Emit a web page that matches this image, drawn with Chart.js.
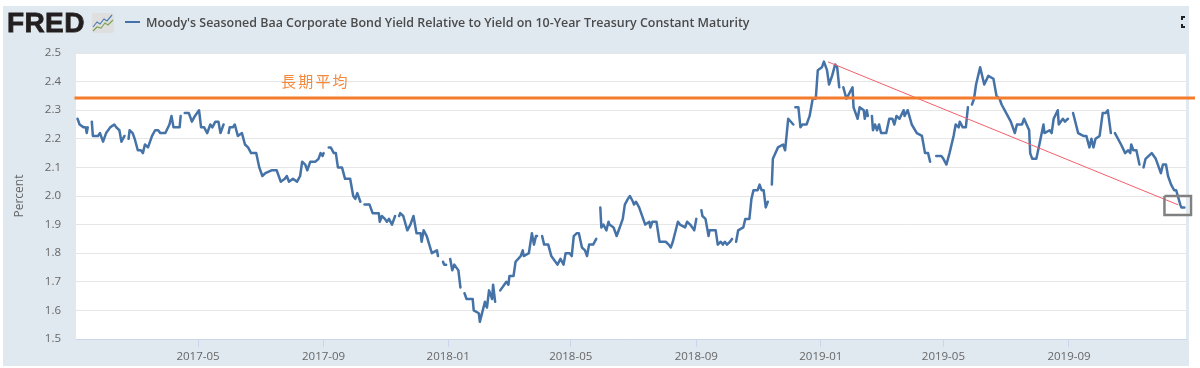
<!DOCTYPE html>
<html>
<head>
<meta charset="utf-8">
<title>Moody's Baa spread</title>
<script src="https://cdn.jsdelivr.net/npm/chart.js"></script>
<style>
  html, body { margin: 0; padding: 0; background: #fff; }
  #wrap { position: relative; width: 1200px; height: 368px; overflow: hidden; font-family: "Open Sans", sans-serif; }
  #panel { position: absolute; left: 3px; top: 6px; width: 1186px; height: 360px; background: #e1e9f0; }
  canvas { position: absolute; left: 0; top: 0; }
  #logo { position: absolute; left: 7px; top: 6px; font: bold 28px/34px "Liberation Sans", sans-serif; color: #231f20; -webkit-text-stroke: 0.8px #231f20; letter-spacing: 0.4px; }
  #icon { position: absolute; left: 92px; top: 13px; }
  #dash { position: absolute; left: 125px; top: 21px; width: 15px; height: 2px; background: #4572a7; }
  #title { position: absolute; left: 146px; top: 14px; font-size: 12.45px; line-height: 18px; font-weight: 600; color: #4a4a4a; white-space: nowrap; }
  #expand { position: absolute; left: 1180px; top: 15px; }
  #note { position: absolute; left: 281px; top: 71px; font: 15px/20px "Noto Sans CJK JP", sans-serif; letter-spacing: 2.2px; color: #f5883a; white-space: nowrap; }
</style>
</head>
<body>
<div id="wrap">
  <div id="panel"></div>
  <canvas id="spreadChart" width="1200" height="368"></canvas>
  <div id="logo">FRED</div>
  <svg id="icon" width="22" height="20" viewBox="0 0 22 20">
    <rect width="22" height="20" rx="2" fill="#dfdfdf"/>
    <polyline points="1,14 5,9 8,11 12,6 15,8 20,2" fill="none" stroke="#4f7fb0" stroke-width="1.2"/>
    <polyline points="1,18 5,14 9,15 13,10 16,12 21,7" fill="none" stroke="#7fa552" stroke-width="1.2"/>
  </svg>
  <div id="dash"></div>
  <div id="title">Moody's Seasoned Baa Corporate Bond Yield Relative to Yield on 10-Year Treasury Constant Maturity</div>
  <svg id="expand" width="10" height="14" viewBox="0 0 10 14">
    <path d="M2 5V2H5M2 9V12H5" fill="none" stroke="#222" stroke-width="2"/>
  </svg>
  <div id="note">長期平均</div>
</div>

<script>
// x values are days counted from 2017-01-01, null marks a gap in the series
var days = [
  2,4,8,10,11,12,null,
  16,17,22,24,27,30,34,38,40,43,45,48,null,
  52,53,56,58,61,64,66,68,71,75,78,81,83,86,88,92,94,96,102,103,null,
  107,111,112,114,117,121,123,126,129,132,134,137,140,142,145,null,
  150,151,154,156,159,163,166,169,172,177,180,183,186,192,197,201,205,207,209,213,217,220,222,225,227,230,235,238,240,242,243,null,
  248,250,253,255,257,261,264,269,270,272,274,276,279,null,
  283,288,291,297,298,300,303,305,307,310,313,null,
  317,318,321,325,328,331,334,338,339,341,344,349,354,355,null,
  360,361,363,null,
  367,369,371,375,377,null,
  381,383,389,390,395,396,401,403,405,408,409,411,null,
  416,422,424,425,429,431,436,438,439,444,447,449,451,452,null,
  457,459,463,466,472,475,478,480,484,486,488,491,493,496,499,501,503,507,510,null,
  514,515,517,520,522,523,527,530,533,536,538,541,543,546,547,549,552,554,558,562,563,565,569,572,576,578,581,583,585,590,592,597,599,602,606,608,null,
  613,614,617,620,621,627,629,632,634,636,638,641,643,null,
  647,649,654,656,660,662,664,668,670,672,674,676,678,null,
  682,683,688,693,695,698,703,null,
  705,708,710,712,716,719,722,725,727,731,733,736,738,741,744,746,748,null,
  752,755,758,761,762,766,768,772,773,775,776,null,
  780,781,783,785,787,789,794,797,800,802,804,807,811,812,815,819,824,829,832,835,837,null,
  843,848,850,853,856,860,862,865,866,869,872,874,null,
  878,880,882,886,890,894,899,902,905,907,913,916,920,922,927,929,934,935,937,941,944,948,949,954,956,958,962,963,967,969,972,null,
  977,982,987,990,993,995,997,999,1003,1006,1009,1011,1014,null,
  1018,1024,1028,1031,1033,1034,1036,1039,1042,null,
  1046,1048,1054,1058,1063,1065,1068,1070,1073,1076,1078,1082,1083,1086
];
var spread = [
  2.27,2.25,2.24,2.24,2.22,2.24,null,
  2.26,2.21,2.21,2.22,2.19,2.22,2.24,2.25,2.24,2.23,2.19,2.21,null,
  2.20,2.23,2.22,2.20,2.16,2.16,2.15,2.18,2.17,2.21,2.23,2.23,2.22,2.22,2.22,2.25,2.28,2.24,2.24,2.28,null,
  2.29,2.29,2.28,2.26,2.28,2.30,2.24,2.24,2.22,2.25,2.24,2.26,2.26,2.22,2.25,null,
  2.22,2.24,2.24,2.25,2.21,2.22,2.18,2.17,2.15,2.15,2.10,2.07,2.08,2.09,2.09,2.05,2.06,2.07,2.05,2.06,2.05,2.07,2.12,2.11,2.09,2.12,2.12,2.13,2.15,2.14,2.15,null,
  2.17,2.17,2.15,2.15,2.10,2.10,2.06,2.06,2.04,2.00,1.99,2.01,1.98,null,
  1.97,1.97,1.94,1.94,1.91,1.93,1.92,1.91,1.92,1.90,1.93,null,
  1.93,1.94,1.93,1.88,1.90,1.93,1.87,1.87,1.84,1.88,1.86,1.80,1.81,1.79,null,
  1.77,1.76,1.76,null,
  1.78,1.74,1.76,1.74,1.68,null,
  1.66,1.64,1.64,1.60,1.59,1.56,1.63,1.61,1.67,1.64,1.69,1.63,null,
  1.67,1.70,1.69,1.72,1.72,1.77,1.79,1.81,1.79,1.80,1.87,1.83,1.86,1.86,null,
  1.86,1.83,1.83,1.79,1.76,1.78,1.76,1.80,1.80,1.79,1.86,1.87,1.87,1.82,1.81,1.79,1.83,1.83,1.85,null,
  1.96,1.89,1.90,1.88,1.91,1.90,1.89,1.86,1.89,1.92,1.97,1.99,2.00,1.98,1.97,1.98,1.96,1.94,1.90,1.91,1.89,1.91,1.91,1.84,1.84,1.84,1.83,1.82,1.84,1.91,1.90,1.89,1.91,1.90,1.88,1.92,null,
  1.95,1.93,1.92,1.86,1.88,1.88,1.83,1.84,1.83,1.84,1.83,1.84,1.85,null,
  1.84,1.88,1.89,1.92,1.92,1.99,2.02,2.02,2.04,2.02,2.02,1.96,1.98,null,
  2.04,2.13,2.17,2.18,2.16,2.27,2.25,null,
  2.31,2.31,2.24,2.25,2.25,2.28,2.34,2.34,2.44,2.45,2.47,2.44,2.39,2.42,2.46,2.45,2.38,null,
  2.38,2.34,2.36,2.38,2.31,2.27,2.31,2.30,2.27,2.30,2.28,null,
  2.28,2.23,2.25,2.23,2.25,2.22,2.22,2.27,2.27,2.25,2.28,2.27,2.30,2.28,2.30,2.25,2.22,2.21,2.15,2.15,2.12,null,
  2.14,2.14,2.13,2.11,2.15,2.21,2.25,2.24,2.26,2.24,2.24,2.31,null,
  2.32,2.34,2.39,2.45,2.39,2.42,2.41,2.35,2.34,2.32,2.28,2.26,2.22,2.25,2.25,2.27,2.23,2.15,2.13,2.13,2.18,2.25,2.22,2.23,2.22,2.27,2.30,2.25,2.27,2.26,2.27,null,
  2.29,2.22,2.21,2.21,2.17,2.20,2.17,2.20,2.21,2.29,2.29,2.30,2.22,null,
  2.22,2.18,2.15,2.16,2.15,2.18,2.16,2.16,2.11,null,
  2.10,2.13,2.15,2.13,2.08,2.11,2.11,2.07,2.04,2.02,2.02,1.97,1.96,1.96
];

// long run average (orange), trend line (red) and the grey marker box
var averageDays = [-1, 1096.4];
var averageValues = [2.343, 2.343];
var trendDays = [737, 1080];
var trendValues = [2.469, 1.969];
var boxDays = [1066.5, 1092.5, 1092.5, 1066.5, 1066.5];
var boxValues = [2.0, 2.0, 1.934, 1.934, 2.0];

var tickDays = [120, 243, 365, 485, 608, 730, 850, 973];
var tickLabels = ["2017-05", "2017-09", "2018-01", "2018-05", "2018-09", "2019-01", "2019-05", "2019-09"];

function toPoints(xs, ys) {
  return xs.map(function(x, i) { return { x: x === null ? NaN : x, y: ys[i] === null ? NaN : ys[i] }; });
}

// white plot area on top of the blue-grey panel
var plotBackground = {
  id: "plotBackground",
  beforeDraw: function(chart) {
    var a = chart.chartArea;
    chart.ctx.fillStyle = "#fff";
    chart.ctx.fillRect(a.left, a.top, a.right - a.left, a.bottom - a.top);
  }
};

var tickFont = { family: "'Open Sans'", size: 11.5 };

new Chart(document.getElementById("spreadChart"), {
  type: "line",
  plugins: [plotBackground],
  data: {
    datasets: [
      { data: toPoints(boxDays, boxValues), borderColor: "#808080", borderWidth: 2.5, pointRadius: 0, clip: false },
      { data: toPoints(averageDays, averageValues), borderColor: "#f47c2c", borderWidth: 3, pointRadius: 0, clip: false },
      { data: toPoints(trendDays, trendValues), borderColor: "#f4606c", borderWidth: 1, pointRadius: 0 },
      { data: toPoints(days, spread), borderColor: "#4572a7", borderWidth: 2.5, borderJoinStyle: "round", borderCapStyle: "round", pointRadius: 0, spanGaps: false }
    ]
  },
  options: {
    responsive: false,
    animation: false,
    layout: { padding: { top: 53, right: 14, left: 0, bottom: 0 } },
    plugins: { legend: { display: false }, tooltip: { enabled: false } },
    scales: {
      x: {
        type: "linear",
        min: 0.5,
        max: 1087.6,
        afterFit: function(scale) { scale.height = 29; },
        afterBuildTicks: function(scale) {
          scale.ticks = tickDays.map(function(d) { return { value: d }; });
        },
        grid: { drawOnChartArea: false, drawTicks: true, tickLength: 8, color: "#ccd6eb" },
        border: { color: "#ccd6eb" },
        ticks: {
          autoSkip: false,
          maxRotation: 0,
          padding: 3,
          color: "#666",
          font: tickFont,
          callback: function(value) { return tickLabels[tickDays.indexOf(value)]; }
        }
      },
      y: {
        min: 1.5,
        max: 2.5,
        afterFit: function(scale) { scale.width = 76; },
        grid: { color: "#e6e6e6", drawTicks: false },
        border: { display: false },
        title: { display: true, text: "Percent", color: "#666", font: { family: "'Open Sans'", size: 12 }, padding: { top: 12, bottom: 0 } },
        ticks: {
          stepSize: 0.1,
          padding: 15,
          color: "#666",
          font: tickFont,
          callback: function(value) { return value.toFixed(1); }
        }
      }
    }
  }
});
</script>
</body>
</html>
